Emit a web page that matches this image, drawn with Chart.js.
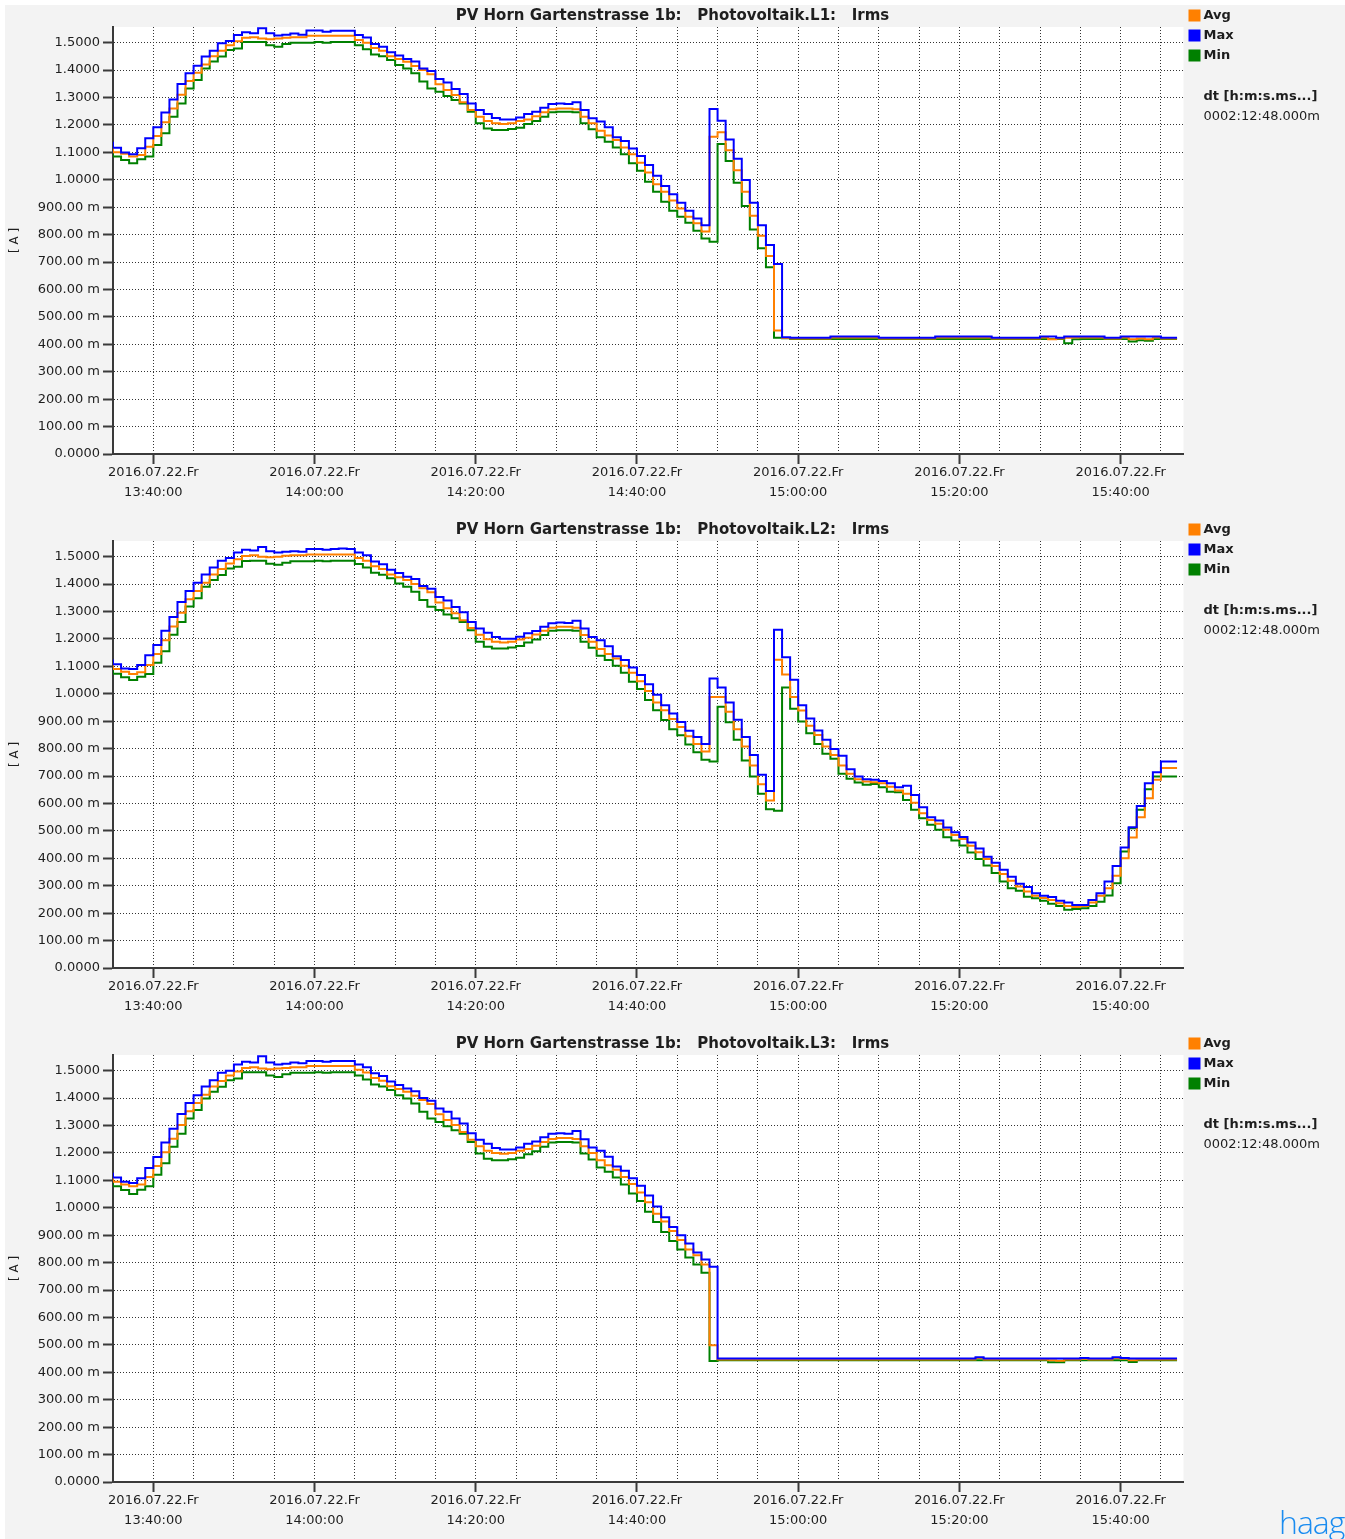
<!DOCTYPE html>
<html>
<head>
<meta charset="utf-8">
<title>PV Horn Gartenstrasse 1b - Irms</title>
<script src="https://cdn.jsdelivr.net/npm/chart.js@4.4.1/dist/chart.umd.min.js"></script>
<style>
  html, body { margin: 0; padding: 0; background: #ffffff; overflow: hidden; }
  .page { position: relative; width: 1345px; height: 1539px; }
  .backdrop { position: absolute; left: 5px; top: 5px; right: 0; bottom: 0; background: #f3f3f3; }
  .panel { position: absolute; left: 0; width: 1345px; height: 514px; }
  .logo {
    position: absolute; left: 1279px; top: 1500px;
    font-family: "Open Sans", sans-serif; font-weight: 300; font-size: 32px;
    letter-spacing: -1px; color: #1a8cf0;
  }
</style>
</head>
<body>
<div class="page">
  <div class="backdrop"></div>
  <div class="panel" style="top:0px"><canvas id="chartL1" width="1345" height="514"></canvas></div>
  <div class="panel" style="top:514px"><canvas id="chartL2" width="1345" height="514"></canvas></div>
  <div class="panel" style="top:1028px"><canvas id="chartL3" width="1345" height="514"></canvas></div>
  <div class="logo">haag</div>
</div>
<script>
// One value per minute, starting 13:35:00 (index 0) up to 15:46 (index 131)
const startMinute = 13 * 60 + 35;
const rangeMinutes = 132.8; // dt 0002:12:48.000

const seriesNames = ['Avg', 'Max', 'Min'];
const seriesColors = ['#ff8000', '#0000ff', '#008000'];

const panelTitles = [
  'PV Horn Gartenstrasse 1b:   Photovoltaik.L1:   Irms',
  'PV Horn Gartenstrasse 1b:   Photovoltaik.L2:   Irms',
  'PV Horn Gartenstrasse 1b:   Photovoltaik.L3:   Irms',
];

// Phase L1
const l1Avg = [
  1.118, 1.100, 1.095, 1.085, 1.090, 1.120, 1.160, 1.210, 1.260, 1.310,
  1.360, 1.390, 1.420, 1.450, 1.470, 1.490, 1.505, 1.518, 1.520, 1.515,
  1.512, 1.515, 1.518, 1.520, 1.520, 1.525, 1.525, 1.525, 1.525, 1.525,
  1.525, 1.510, 1.500, 1.480, 1.470, 1.450, 1.440, 1.430, 1.415, 1.400,
  1.385, 1.348, 1.327, 1.309, 1.283, 1.254, 1.230, 1.214, 1.206, 1.203,
  1.206, 1.214, 1.220, 1.232, 1.246, 1.257, 1.260, 1.260, 1.257, 1.230,
  1.206, 1.179, 1.161, 1.145, 1.118, 1.093, 1.062, 1.026, 0.984, 0.956,
  0.924, 0.895, 0.865, 0.841, 0.811, 1.157, 1.173, 1.108, 1.035, 0.956,
  0.869, 0.796, 0.722, 0.450, 0.423, 0.421, 0.421, 0.421, 0.421, 0.421,
  0.425, 0.425, 0.425, 0.425, 0.425, 0.425, 0.421, 0.421, 0.421, 0.421,
  0.421, 0.421, 0.421, 0.425, 0.425, 0.425, 0.425, 0.425, 0.425, 0.425,
  0.421, 0.421, 0.421, 0.421, 0.421, 0.421, 0.425, 0.418, 0.421, 0.424,
  0.425, 0.425, 0.425, 0.425, 0.421, 0.421, 0.425, 0.418, 0.421, 0.418,
  0.425, 0.421,
];
const l1Max = [
  1.139, 1.117, 1.099, 1.093, 1.115, 1.151, 1.191, 1.245, 1.293, 1.349,
  1.388, 1.416, 1.449, 1.470, 1.498, 1.506, 1.528, 1.538, 1.534, 1.552,
  1.534, 1.526, 1.529, 1.533, 1.529, 1.544, 1.544, 1.540, 1.543, 1.543,
  1.543, 1.528, 1.519, 1.495, 1.485, 1.465, 1.453, 1.440, 1.431, 1.406,
  1.397, 1.367, 1.355, 1.331, 1.313, 1.278, 1.254, 1.240, 1.225, 1.220,
  1.220, 1.227, 1.240, 1.248, 1.263, 1.276, 1.278, 1.276, 1.283, 1.254,
  1.224, 1.212, 1.191, 1.155, 1.141, 1.114, 1.087, 1.054, 1.015, 0.977,
  0.947, 0.916, 0.887, 0.859, 0.834, 1.258, 1.215, 1.147, 1.077, 0.999,
  0.916, 0.834, 0.762, 0.693, 0.426, 0.424, 0.424, 0.424, 0.424, 0.424,
  0.428, 0.428, 0.428, 0.428, 0.428, 0.428, 0.424, 0.424, 0.424, 0.424,
  0.424, 0.424, 0.424, 0.428, 0.428, 0.428, 0.428, 0.428, 0.428, 0.428,
  0.424, 0.424, 0.424, 0.424, 0.424, 0.424, 0.428, 0.428, 0.424, 0.428,
  0.428, 0.428, 0.428, 0.428, 0.424, 0.424, 0.428, 0.428, 0.428, 0.428,
  0.428, 0.424,
];
const l1Min = [
  1.097, 1.085, 1.072, 1.060, 1.075, 1.085, 1.127, 1.170, 1.230, 1.278,
  1.333, 1.364, 1.406, 1.431, 1.449, 1.473, 1.479, 1.502, 1.502, 1.502,
  1.490, 1.485, 1.495, 1.500, 1.500, 1.500, 1.502, 1.500, 1.502, 1.502,
  1.502, 1.490, 1.476, 1.457, 1.450, 1.437, 1.418, 1.406, 1.388, 1.358,
  1.333, 1.321, 1.305, 1.291, 1.278, 1.248, 1.206, 1.187, 1.181, 1.181,
  1.185, 1.190, 1.203, 1.214, 1.230, 1.246, 1.248, 1.248, 1.246, 1.206,
  1.184, 1.155, 1.139, 1.118, 1.093, 1.060, 1.033, 0.993, 0.956, 0.920,
  0.887, 0.865, 0.843, 0.814, 0.786, 0.774, 1.130, 1.068, 0.989, 0.904,
  0.819, 0.750, 0.681, 0.424, 0.422, 0.419, 0.419, 0.419, 0.419, 0.419,
  0.419, 0.419, 0.419, 0.419, 0.419, 0.419, 0.419, 0.419, 0.419, 0.419,
  0.419, 0.419, 0.419, 0.419, 0.419, 0.419, 0.419, 0.419, 0.419, 0.419,
  0.419, 0.419, 0.419, 0.419, 0.419, 0.419, 0.419, 0.419, 0.419, 0.404,
  0.418, 0.419, 0.419, 0.419, 0.419, 0.419, 0.419, 0.410, 0.415, 0.413,
  0.419, 0.419,
];

// Phase L2
const l2Avg = [
  1.105, 1.090, 1.080, 1.072, 1.078, 1.105, 1.145, 1.195, 1.245, 1.295,
  1.345, 1.375, 1.405, 1.435, 1.455, 1.475, 1.490, 1.502, 1.505, 1.500,
  1.498, 1.500, 1.503, 1.505, 1.505, 1.508, 1.508, 1.508, 1.508, 1.508,
  1.508, 1.495, 1.485, 1.465, 1.455, 1.435, 1.425, 1.415, 1.400, 1.385,
  1.370, 1.333, 1.312, 1.294, 1.268, 1.240, 1.215, 1.199, 1.190, 1.187,
  1.190, 1.198, 1.204, 1.216, 1.230, 1.241, 1.244, 1.244, 1.241, 1.214,
  1.190, 1.163, 1.145, 1.129, 1.102, 1.077, 1.046, 1.010, 0.968, 0.940,
  0.908, 0.879, 0.845, 0.817, 0.789, 0.988, 0.988, 0.934, 0.871, 0.808,
  0.738, 0.670, 0.611, 1.124, 1.070, 0.988, 0.939, 0.883, 0.850, 0.808,
  0.777, 0.738, 0.708, 0.688, 0.680, 0.677, 0.674, 0.661, 0.647, 0.635,
  0.603, 0.564, 0.540, 0.526, 0.504, 0.485, 0.470, 0.446, 0.422, 0.397,
  0.372, 0.343, 0.318, 0.297, 0.279, 0.263, 0.255, 0.248, 0.236, 0.226,
  0.222, 0.226, 0.239, 0.263, 0.291, 0.336, 0.400, 0.476, 0.550, 0.619,
  0.686, 0.729,
];
const l2Max = [
  1.125, 1.108, 1.092, 1.090, 1.105, 1.140, 1.178, 1.230, 1.280, 1.335,
  1.375, 1.405, 1.435, 1.460, 1.485, 1.495, 1.515, 1.525, 1.522, 1.535,
  1.520, 1.515, 1.518, 1.520, 1.518, 1.528, 1.528, 1.525, 1.528, 1.530,
  1.528, 1.515, 1.505, 1.482, 1.472, 1.452, 1.440, 1.427, 1.418, 1.393,
  1.383, 1.353, 1.340, 1.316, 1.297, 1.262, 1.238, 1.222, 1.207, 1.201,
  1.201, 1.208, 1.221, 1.229, 1.244, 1.257, 1.260, 1.258, 1.266, 1.238,
  1.207, 1.195, 1.173, 1.137, 1.123, 1.096, 1.068, 1.035, 0.996, 0.958,
  0.928, 0.897, 0.865, 0.842, 0.817, 1.056, 1.023, 0.968, 0.905, 0.842,
  0.777, 0.705, 0.645, 1.233, 1.133, 1.051, 0.958, 0.910, 0.866, 0.832,
  0.799, 0.774, 0.725, 0.698, 0.688, 0.686, 0.682, 0.674, 0.659, 0.665,
  0.631, 0.586, 0.550, 0.538, 0.512, 0.495, 0.478, 0.458, 0.436, 0.406,
  0.384, 0.358, 0.333, 0.307, 0.295, 0.273, 0.263, 0.259, 0.245, 0.239,
  0.230, 0.230, 0.248, 0.273, 0.315, 0.372, 0.439, 0.513, 0.591, 0.674,
  0.714, 0.753,
];
const l2Min = [
  1.085, 1.073, 1.060, 1.050, 1.062, 1.072, 1.113, 1.155, 1.215, 1.262,
  1.318, 1.348, 1.390, 1.415, 1.433, 1.457, 1.463, 1.484, 1.485, 1.485,
  1.474, 1.470, 1.478, 1.483, 1.483, 1.483, 1.485, 1.483, 1.485, 1.485,
  1.485, 1.473, 1.460, 1.441, 1.434, 1.421, 1.402, 1.390, 1.372, 1.342,
  1.317, 1.305, 1.289, 1.275, 1.262, 1.232, 1.190, 1.171, 1.165, 1.165,
  1.169, 1.174, 1.187, 1.198, 1.214, 1.230, 1.232, 1.232, 1.230, 1.190,
  1.168, 1.139, 1.123, 1.102, 1.077, 1.044, 1.017, 0.977, 0.940, 0.904,
  0.871, 0.849, 0.815, 0.787, 0.759, 0.753, 0.953, 0.896, 0.832, 0.757,
  0.698, 0.635, 0.579, 0.573, 1.023, 0.945, 0.899, 0.856, 0.817, 0.781,
  0.763, 0.708, 0.690, 0.676, 0.668, 0.671, 0.659, 0.643, 0.641, 0.613,
  0.577, 0.546, 0.522, 0.504, 0.477, 0.465, 0.447, 0.421, 0.397, 0.374,
  0.346, 0.315, 0.291, 0.282, 0.260, 0.254, 0.245, 0.234, 0.226, 0.212,
  0.215, 0.218, 0.226, 0.242, 0.264, 0.309, 0.425, 0.510, 0.577, 0.652,
  0.698, 0.698,
];

// Phase L3
const l3Avg = [
  1.110, 1.095, 1.085, 1.078, 1.085, 1.112, 1.152, 1.202, 1.252, 1.302,
  1.352, 1.382, 1.412, 1.442, 1.462, 1.482, 1.497, 1.510, 1.512, 1.508,
  1.505, 1.508, 1.510, 1.512, 1.512, 1.517, 1.517, 1.517, 1.517, 1.517,
  1.517, 1.503, 1.493, 1.473, 1.463, 1.443, 1.433, 1.423, 1.408, 1.393,
  1.378, 1.341, 1.320, 1.302, 1.276, 1.248, 1.224, 1.208, 1.200, 1.197,
  1.200, 1.208, 1.214, 1.226, 1.240, 1.251, 1.254, 1.254, 1.251, 1.224,
  1.200, 1.173, 1.155, 1.139, 1.112, 1.087, 1.056, 1.020, 0.978, 0.950,
  0.915, 0.882, 0.848, 0.827, 0.793, 0.499, 0.447, 0.447, 0.447, 0.447,
  0.447, 0.447, 0.447, 0.447, 0.447, 0.447, 0.447, 0.447, 0.447, 0.447,
  0.447, 0.447, 0.447, 0.447, 0.447, 0.447, 0.447, 0.447, 0.447, 0.447,
  0.447, 0.447, 0.447, 0.447, 0.447, 0.447, 0.447, 0.447, 0.452, 0.447,
  0.447, 0.447, 0.447, 0.447, 0.447, 0.447, 0.447, 0.444, 0.442, 0.447,
  0.447, 0.449, 0.447, 0.447, 0.447, 0.452, 0.449, 0.444, 0.447, 0.447,
  0.447, 0.447,
];
const l3Max = [
  1.128, 1.110, 1.095, 1.090, 1.108, 1.145, 1.185, 1.238, 1.288, 1.342,
  1.382, 1.410, 1.442, 1.465, 1.492, 1.500, 1.522, 1.532, 1.530, 1.552,
  1.530, 1.522, 1.525, 1.530, 1.527, 1.535, 1.535, 1.532, 1.535, 1.535,
  1.535, 1.522, 1.512, 1.490, 1.480, 1.460, 1.448, 1.435, 1.425, 1.400,
  1.390, 1.362, 1.350, 1.325, 1.307, 1.272, 1.248, 1.233, 1.218, 1.212,
  1.212, 1.220, 1.233, 1.242, 1.257, 1.270, 1.272, 1.270, 1.280, 1.250,
  1.220, 1.208, 1.186, 1.150, 1.135, 1.108, 1.080, 1.045, 1.005, 0.965,
  0.930, 0.900, 0.870, 0.837, 0.811, 0.785, 0.450, 0.450, 0.450, 0.450,
  0.450, 0.450, 0.450, 0.450, 0.450, 0.450, 0.450, 0.450, 0.450, 0.450,
  0.450, 0.450, 0.450, 0.450, 0.450, 0.450, 0.450, 0.450, 0.450, 0.450,
  0.450, 0.450, 0.450, 0.450, 0.450, 0.450, 0.450, 0.450, 0.455, 0.450,
  0.450, 0.450, 0.450, 0.450, 0.450, 0.450, 0.450, 0.450, 0.450, 0.450,
  0.450, 0.452, 0.450, 0.450, 0.450, 0.455, 0.452, 0.450, 0.450, 0.450,
  0.450, 0.450,
];
const l3Min = [
  1.090, 1.078, 1.065, 1.050, 1.066, 1.078, 1.120, 1.162, 1.222, 1.270,
  1.325, 1.356, 1.398, 1.423, 1.441, 1.465, 1.471, 1.494, 1.494, 1.494,
  1.482, 1.477, 1.487, 1.492, 1.492, 1.492, 1.494, 1.492, 1.494, 1.494,
  1.494, 1.482, 1.468, 1.449, 1.442, 1.429, 1.410, 1.398, 1.380, 1.350,
  1.325, 1.313, 1.297, 1.283, 1.270, 1.240, 1.198, 1.179, 1.173, 1.173,
  1.177, 1.182, 1.195, 1.206, 1.222, 1.238, 1.240, 1.240, 1.238, 1.198,
  1.176, 1.147, 1.131, 1.110, 1.085, 1.052, 1.025, 0.985, 0.948, 0.912,
  0.879, 0.848, 0.819, 0.793, 0.763, 0.441, 0.444, 0.444, 0.444, 0.444,
  0.444, 0.444, 0.444, 0.444, 0.444, 0.444, 0.444, 0.444, 0.444, 0.444,
  0.444, 0.444, 0.444, 0.444, 0.444, 0.444, 0.444, 0.444, 0.444, 0.444,
  0.444, 0.444, 0.444, 0.444, 0.444, 0.444, 0.444, 0.444, 0.444, 0.444,
  0.444, 0.444, 0.444, 0.444, 0.444, 0.444, 0.444, 0.437, 0.437, 0.444,
  0.444, 0.444, 0.444, 0.444, 0.444, 0.444, 0.444, 0.438, 0.444, 0.444,
  0.444, 0.444,
];

// Axis ticks
const yTickValues = [0, 0.1, 0.2, 0.3, 0.4, 0.5, 0.6, 0.7, 0.8, 0.9, 1.0, 1.1, 1.2, 1.3, 1.4, 1.5];
const yTickLabels = [
  '0.0000', '100.00 m', '200.00 m', '300.00 m', '400.00 m', '500.00 m', '600.00 m',
  '700.00 m', '800.00 m', '900.00 m', '1.0000', '1.1000', '1.2000', '1.3000', '1.4000', '1.5000',
];
const xGridMinutes = [5, 10, 15, 20, 25, 30, 35, 40, 45, 50, 55, 60, 65, 70, 75, 80, 85, 90,
  95, 100, 105, 110, 115, 120, 125, 130];
const xTickMinutes = [5, 25, 45, 65, 85, 105, 125];
const xTickLabels = [
  ['2016.07.22.Fr', '13:40:00'],
  ['2016.07.22.Fr', '14:00:00'],
  ['2016.07.22.Fr', '14:20:00'],
  ['2016.07.22.Fr', '14:40:00'],
  ['2016.07.22.Fr', '15:00:00'],
  ['2016.07.22.Fr', '15:20:00'],
  ['2016.07.22.Fr', '15:40:00'],
];
const dtLabel = 'dt [h:m:s.ms...]';
const dtValue = '0002:12:48.000m';

const FONT = 'DejaVu Sans';
const TEXT = '#1e1e1e';
const AXIS = '#3a3a3a';

Chart.defaults.font.family = FONT;

// Stepped line: each minute value holds until the next minute
function toSteps(values) {
  const pts = values.map((v, i) => ({ x: i, y: v }));
  pts.push({ x: values.length, y: values[values.length - 1] });
  return pts;
}

// White plot area behind the grid
const plotBackground = {
  id: 'plotBackground',
  beforeDraw(chart) {
    const { ctx, chartArea: a } = chart;
    ctx.save();
    ctx.fillStyle = '#ffffff';
    ctx.fillRect(a.left, a.top, a.right - a.left, a.bottom - a.top);
    ctx.restore();
  },
};

// Legend squares and the dt block on the right of the plot
const sideLegend = {
  id: 'sideLegend',
  afterDraw(chart) {
    const { ctx, chartArea: a } = chart;
    const x = a.right + 5;
    ctx.save();
    ctx.textBaseline = 'middle';
    ctx.textAlign = 'left';
    seriesNames.forEach((name, i) => {
      const cy = 15.5 + i * 20;
      ctx.fillStyle = seriesColors[i];
      ctx.fillRect(x, cy - 6, 12, 12);
      ctx.fillStyle = TEXT;
      ctx.font = 'bold 13px "' + FONT + '"';
      ctx.fillText(name, x + 15, cy);
    });
    ctx.font = 'bold 13px "' + FONT + '"';
    ctx.fillText(dtLabel, x + 15, 96.5);
    ctx.font = '13px "' + FONT + '"';
    ctx.fillText(dtValue, x + 15, 116.5);
    ctx.restore();
  },
};

function makePanel(canvasId, title, avg, max, min) {
  const ctx = document.getElementById(canvasId).getContext('2d');
  const series = [avg, max, min];
  const drawOrder = [1, 0, 2]; // Max on top, Min below
  return new Chart(ctx, {
    type: 'line',
    data: {
      datasets: series.map((values, i) => ({
        label: seriesNames[i],
        data: toSteps(values),
        borderColor: seriesColors[i],
        backgroundColor: seriesColors[i],
        borderWidth: 2,
        pointRadius: 0,
        stepped: 'after',
        fill: false,
        order: drawOrder[i],
      })),
    },
    options: {
      responsive: false,
      animation: false,
      devicePixelRatio: 1,
      layout: { padding: 0 },
      plugins: {
        legend: { display: false },
        tooltip: { enabled: false },
        title: {
          display: true,
          text: title,
          color: TEXT,
          font: { family: FONT, size: 15, weight: 'bold', lineHeight: 1.2 },
          padding: { top: 7, bottom: 2 },
        },
      },
      scales: {
        x: {
          type: 'linear',
          min: 0,
          max: rangeMinutes,
          afterBuildTicks: (scale) => {
            scale.ticks = xGridMinutes.map((v) => ({ value: v }));
          },
          afterFit: (scale) => {
            scale.height = 60;
          },
          ticks: {
            autoSkip: false,
            maxRotation: 0,
            padding: -1,
            color: TEXT,
            font: { size: 13, lineHeight: 1.5 },
            callback: (value) => {
              const k = xTickMinutes.indexOf(value);
              return k >= 0 ? xTickLabels[k] : '';
            },
          },
          grid: {
            color: '#333333',
            lineWidth: 1,
            tickLength: 10,
            tickWidth: 2,
            tickBorderDash: [],
            tickColor: (c) => (c.tick && xTickMinutes.includes(c.tick.value) ? AXIS : 'rgba(0,0,0,0)'),
          },
          border: { display: true, color: AXIS, width: 2, dash: [1, 2] },
        },
        y: {
          type: 'linear',
          min: 0,
          max: 1.557,
          afterBuildTicks: (scale) => {
            scale.ticks = yTickValues.map((v) => ({ value: v }));
          },
          afterFit: (scale) => {
            scale.width = 113;
          },
          ticks: {
            padding: 3,
            color: TEXT,
            font: { size: 13 },
            callback: (value, index) => yTickLabels[index],
          },
          grid: {
            color: '#333333',
            lineWidth: 1,
            tickLength: 10,
            tickWidth: 2,
            tickBorderDash: [],
            tickColor: AXIS,
          },
          border: { display: true, color: AXIS, width: 2, dash: [1, 2] },
          title: {
            display: true,
            text: '[ A ]',
            color: TEXT,
            font: { size: 12 },
            padding: { top: 8, bottom: 0 },
          },
        },
        // empty axis that only reserves room for the legend column
        side: {
          type: 'linear',
          position: 'right',
          display: true,
          ticks: { display: false },
          grid: { display: false, drawTicks: false },
          border: { display: false },
          afterFit: (scale) => {
            scale.width = 161.5;
          },
        },
      },
    },
    plugins: [plotBackground, sideLegend],
  });
}

document.addEventListener('DOMContentLoaded', () => {
  makePanel('chartL1', panelTitles[0], l1Avg, l1Max, l1Min);
  makePanel('chartL2', panelTitles[1], l2Avg, l2Max, l2Min);
  makePanel('chartL3', panelTitles[2], l3Avg, l3Max, l3Min);
});
</script>
</body>
</html>
